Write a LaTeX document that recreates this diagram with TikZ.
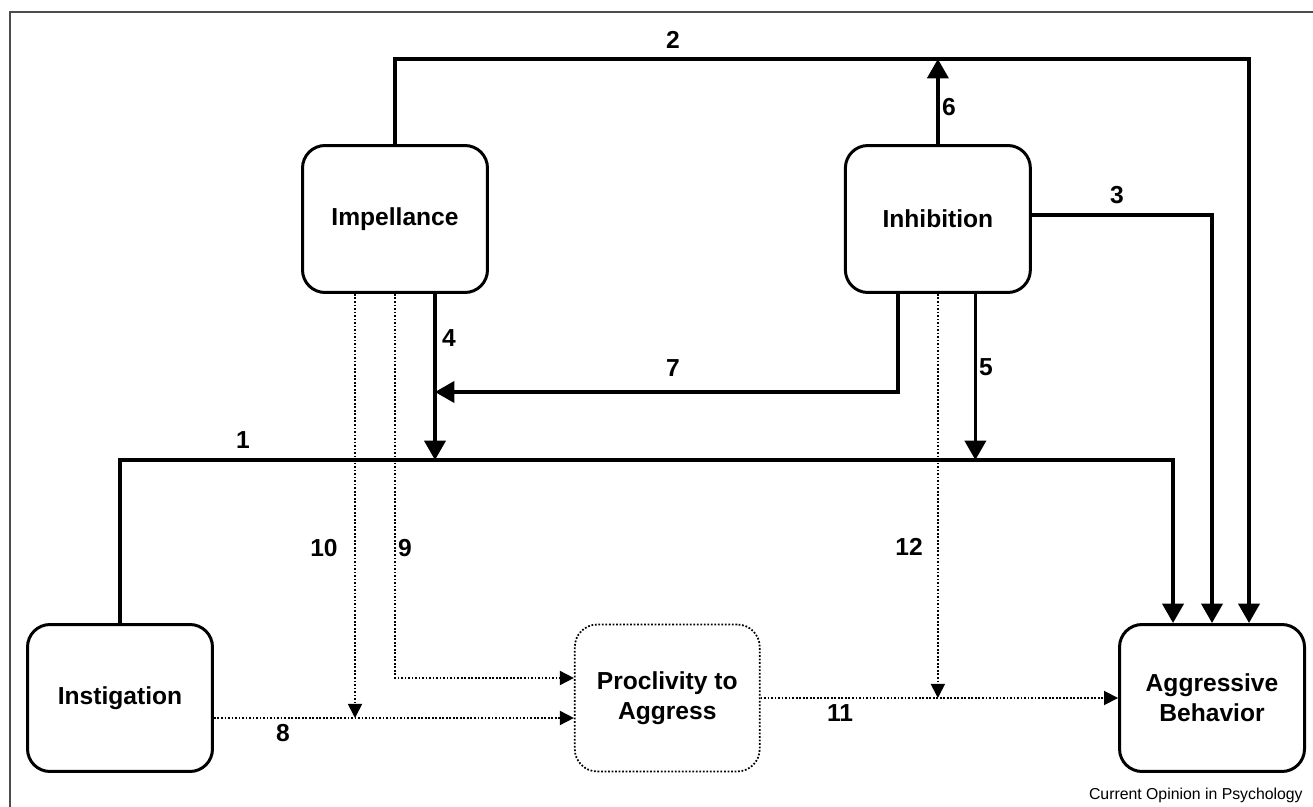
\documentclass[tikz,border=0pt]{standalone}
\usepackage{fontspec}
\setmainfont{Liberation Sans}
\usetikzlibrary{positioning,arrows.meta}

\begin{document}
\begin{tikzpicture}[x=0.02cm, y=-0.02cm,
                    stagebox/.style={rectangle, rounded corners=0.45cm, draw=black, line width=1.7pt, minimum width=3.7cm, minimum height=2.94cm, align=center, font=\bfseries\fontsize{14}{17}\selectfont},
                    latentbox/.style={stagebox, line width=1pt, dash pattern=on 1pt off 1pt},
                    strong/.style={line width=2pt, -{Triangle[length=11pt,width=12pt]}},
                    weak/.style={line width=1pt, dash pattern=on 1pt off 1pt, -{Triangle[length=8pt,width=8pt]}},
                    numlabel/.style={font=\bfseries\fontsize{14}{17}\selectfont, inner sep=0pt},]
    \useasboundingbox (0,0) rectangle (1313,807);
    % frame
    \draw[gray!60!black, line width=0.9pt] (10,807) -- (10,12) -- (1313,12);
    % nodes
    \node[stagebox]     (imp)                          at (395,219)    {Impellance};
    \node[stagebox]     (inh)       [right=7.1cm of imp]               {Inhibition};
    \node[stagebox]     (ins)                          at (120,698)    {Instigation};
    \node[latentbox]    (prc)       [right=7.2cm of ins]               {Proclivity to\\Aggress};
    \node[stagebox]     (agg)       [right=7.15cm of prc]              {Aggressive\\Behavior};
    % helper coordinates
    \coordinate (top) at (0,59);
    \coordinate (mid) at (0,392);
    \coordinate (bus) at (0,460);
    \coordinate (imp4)  at ([xshift=0.8cm]imp.south);
    \coordinate (imp10) at ([xshift=-0.8cm]imp.south);
    \coordinate (inh5)  at ([xshift=0.75cm]inh.south);
    \coordinate (inh7)  at ([xshift=-0.8cm]inh.south);
    \coordinate (ins8)  at ([yshift=-0.4cm]ins.east);
    % solid lines
    \draw[strong] (ins.north) -- (ins.north |- bus) -| ([xshift=-0.78cm]agg.north);
    \draw[strong] (imp.north) -- (imp.north |- top) -| ([xshift=0.74cm]agg.north);
    \draw[strong] ([yshift=0.08cm]inh.east) -| (agg.north);
    \draw[strong] (imp4) -- (imp4 |- bus);
    \draw[strong] (inh5) -- (inh5 |- bus);
    \draw[strong] (inh.north) -- (inh.north |- top);
    \draw[strong] (inh7) |- (imp4 |- mid);
    % dotted lines
    \draw[weak] (ins8) -- (prc.west |- ins8);
    \draw[weak] (imp.south) |- ([yshift=0.4cm]prc.west);
    \draw[weak] (imp10) -- (imp10 |- ins8);
    \draw[weak] (prc.east) -- (agg.west);
    \draw[weak] (inh.south) -- (inh.south |- prc.east);
    % labels
    \node[numlabel] (n1)  at (243,440) {1};
    \node[numlabel] (n2)  at (673,40)  {2};
    \node[numlabel] (n3)  at (1117,195) {3};
    \node[numlabel] (n4)  at (449,338) {4};
    \node[numlabel] (n5)  at (986,367) {5};
    \node[numlabel] (n6)  at (949,107) {6};
    \node[numlabel] (n7)  at (673,368) {7};
    \node[numlabel] (n8)  at (283,733) {8};
    \node[numlabel] (n9)  at (405,548) {9};
    \node[numlabel] (n10) at (324,548) {10};
    \node[numlabel] (n11) at (840,713) {11};
    \node[numlabel] (n12) at (909,547) {12};
    \node[font=\fontsize{9}{11}\selectfont, anchor=east, inner sep=0pt] (src) at (1303,795) {Current Opinion in Psychology};
\end{tikzpicture}
\end{document}
